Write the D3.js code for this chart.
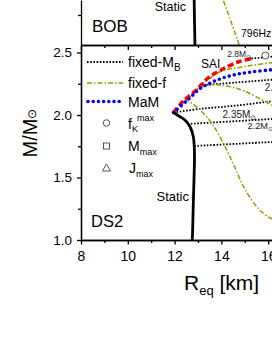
<!DOCTYPE html>
<html>
<head>
<meta charset="utf-8">
<script src="https://cdn.jsdelivr.net/npm/d3@7"></script>
<style>
body { margin: 0; background: #fff; }
svg { display: block; font-family: Arial, "Liberation Sans", sans-serif; }
</style>
</head>
<body>
<div id="chart"></div>
<script>
// values: [R_eq (km), M/Msun]
const staticBOB = [[12.87, 1.0], [12.85, 1.2], [12.83, 1.45]];
const f796BOB = [[14.76, 1.0], [14.4, 1.2], [14.08, 1.375], [13.9, 1.45]];

const staticDS2 = [[11.95, 2.02], [12.2, 1.99], [12.44, 1.96], [12.66, 1.906], [12.8, 1.826],
    [12.84, 1.746], [12.85, 1.65], [12.84, 1.56], [12.8, 1.296], [12.76, 1.026], [12.74, 0.98]];
const saiDS2 = [[11.95, 2.02], [12.36, 2.11], [12.93, 2.2], [13.43, 2.296], [14.0, 2.362],
    [14.71, 2.424], [15.28, 2.45]];
const mamDS2 = [[11.95, 2.02], [12.57, 2.122], [13.13, 2.216], [13.85, 2.282], [14.57, 2.322],
    [15.28, 2.344], [16.16, 2.362], [16.6, 2.368]];
const fixedF = [
    [[13.1, 2.236], [13.94, 2.346], [14.94, 2.386], [16.15, 2.418], [16.6, 2.426]],
    [[12.9, 2.2], [13.3, 2.232], [13.85, 2.242], [14.4, 2.225], [15.0, 2.19], [15.99, 2.096], [16.5, 2.04]],
    [[12.43, 2.13], [13.0, 2.056], [13.6, 1.93], [14.2, 1.73], [14.6, 1.57], [14.92, 1.435],
        [15.52, 1.264], [16.08, 1.176], [16.5, 1.155]]
];
const fixedMB = [
    [[15.28, 2.452], [16.6, 2.474]],
    [[13.1, 2.238], [16.16, 2.282], [16.6, 2.288]],
    [[11.95, 2.02], [13.14, 2.05], [14.57, 2.074], [16.16, 2.11], [16.6, 2.118]],
    [[12.56, 1.928], [16.16, 1.968], [16.6, 1.973]],
    [[12.84, 1.752], [16.16, 1.784], [16.6, 1.788]]
];
const fkMax = [[15.88, 2.476]];
const mbLabels = [
    { text: "2.8M", r: 14.25, m: 2.465, size: 8.5 },
    { text: "2.65M", r: 15.85, m: 2.19, size: 10 },
    { text: "2.35M", r: 14.05, m: 1.98, size: 10 },
    { text: "2.2M", r: 15.12, m: 1.885, size: 9.2 }
];

const xTicks = [8, 10, 12, 14, 16, 18];
const xMinor = [9, 11, 13, 15, 17];
const yTicks = [1.0, 1.5, 2.0, 2.5];
const yMinor = [1.25, 1.75, 2.25];

const legendItems = ["fixed-M", "fixed-f", "MaM", "f", "M", "J"];

const width = 272, height = 352;
const olive = "#999900";

const svg = d3.select("#chart").append("svg")
    .attr("width", width)
    .attr("height", height);

const x = d3.scaleLinear().domain([8, 18]).range([81, 81 + 10 * 23.4]);
const y = d3.scaleLinear().domain([1.0, 2.56]).range([240, 45]);
const yTop = d3.scaleLinear().domain([1.0, 1.375]).range([45, 0]);

const line = d3.line().x(d => x(d[0])).y(d => y(d[1])).curve(d3.curveCatmullRom);
const lineTop = d3.line().x(d => x(d[0])).y(d => yTop(d[1]));

svg.append("clipPath").attr("id", "clipLow")
    .append("rect").attr("x", 81).attr("y", 45).attr("width", 300).attr("height", 195);
svg.append("clipPath").attr("id", "clipTop")
    .append("rect").attr("x", 81).attr("y", 0).attr("width", 300).attr("height", 45);

// ---- top panel (BOB)
const topPanel = svg.append("g").attr("clip-path", "url(#clipTop)");
topPanel.append("path").attr("d", lineTop(f796BOB))
    .attr("fill", "none").attr("stroke", olive).attr("stroke-width", 1.5)
    .attr("stroke-dasharray", "5,2,1.5,2");
topPanel.append("path").attr("d", lineTop(staticBOB))
    .attr("fill", "none").attr("stroke", "#000").attr("stroke-width", 2.8);

svg.append("text").attr("x", 92).attr("y", 32).attr("font-size", 17).text("BOB");
svg.append("text").attr("x", 186).attr("y", 10.5).attr("font-size", 12.5)
    .attr("text-anchor", "end").text("Static");
svg.append("text").attr("x", 241).attr("y", 36.5).attr("font-size", 10.5).text("796Hz");

// ---- lower panel (DS2)
const plot = svg.append("g").attr("clip-path", "url(#clipLow)");

fixedMB.forEach(s => {
    plot.append("path").attr("d", line(s))
        .attr("fill", "none").attr("stroke", "#000").attr("stroke-width", 1.8)
        .attr("stroke-dasharray", "1.6,1.6");
});
fixedF.forEach(s => {
    plot.append("path").attr("d", line(s))
        .attr("fill", "none").attr("stroke", olive).attr("stroke-width", 1.5)
        .attr("stroke-dasharray", "5,2,1.5,2");
});
plot.append("path").attr("d", line(saiDS2))
    .attr("fill", "none").attr("stroke", "#ff0000").attr("stroke-width", 3.5)
    .attr("stroke-dasharray", "6,3");
plot.append("path").attr("d", line(mamDS2))
    .attr("fill", "none").attr("stroke", "#0000ff").attr("stroke-width", 3.6)
    .attr("stroke-linecap", "round").attr("stroke-dasharray", "0,5.2");
plot.append("path").attr("d", line(staticDS2))
    .attr("fill", "none").attr("stroke", "#000").attr("stroke-width", 2.8);

plot.selectAll(".fk").data(fkMax).enter().append("circle")
    .attr("cx", d => x(d[0])).attr("cy", d => y(d[1])).attr("r", 3.5)
    .attr("fill", "#fff").attr("stroke", "#444").attr("stroke-width", 0.9);

mbLabels.forEach(l => {
    const t = svg.append("text").attr("x", x(l.r)).attr("y", y(l.m))
        .attr("font-size", l.size).attr("fill", "#222").text(l.text);
    t.append("tspan").attr("font-size", l.size * 0.68).attr("dy", 2).text("\u2299");
});

svg.append("text").attr("x", 201).attr("y", 68).attr("font-size", 12).text("SAI");
svg.append("text").attr("x", 189).attr("y", 201).attr("font-size", 13)
    .attr("text-anchor", "end").text("Static");
svg.append("text").attr("x", 91).attr("y", 226.5).attr("font-size", 16.5).text("DS2");

// ---- legend
const legendY = [62, 83, 101.5, 123, 146, 168];
const lg = svg.append("g");
lg.append("line").attr("x1", 87).attr("x2", 123).attr("y1", legendY[0]).attr("y2", legendY[0])
    .attr("stroke", "#000").attr("stroke-width", 1.8).attr("stroke-dasharray", "1.6,1.6");
lg.append("line").attr("x1", 87).attr("x2", 123).attr("y1", legendY[1]).attr("y2", legendY[1])
    .attr("stroke", olive).attr("stroke-width", 1.5).attr("stroke-dasharray", "5,2,1.5,2");
lg.append("line").attr("x1", 88).attr("x2", 123).attr("y1", legendY[2]).attr("y2", legendY[2])
    .attr("stroke", "#0000ff").attr("stroke-width", 3.6).attr("stroke-linecap", "round")
    .attr("stroke-dasharray", "0,5.2");
lg.append("circle").attr("cx", 106.5).attr("cy", legendY[3]).attr("r", 3.3)
    .attr("fill", "none").attr("stroke", "#444").attr("stroke-width", 0.9);
lg.append("rect").attr("x", 103.5).attr("y", legendY[4] - 3).attr("width", 6).attr("height", 6)
    .attr("fill", "none").attr("stroke", "#444").attr("stroke-width", 0.9);
lg.append("path")
    .attr("d", `M106.5,${legendY[5] - 4}L110.5,${legendY[5] + 3}L102.5,${legendY[5] + 3}Z`)
    .attr("fill", "none").attr("stroke", "#444").attr("stroke-width", 0.9);

const t0 = lg.append("text").attr("x", 128).attr("y", legendY[0] + 5).attr("font-size", 14).text(legendItems[0]);
t0.append("tspan").attr("font-size", 10).attr("dy", 4).text("B");
lg.append("text").attr("x", 128).attr("y", legendY[1] + 5).attr("font-size", 14).text(legendItems[1]);
lg.append("text").attr("x", 128).attr("y", legendY[2] + 5).attr("font-size", 14).text(legendItems[2]);
const t3 = lg.append("text").attr("x", 128).attr("y", legendY[3] + 6).attr("font-size", 14).text(legendItems[3]);
t3.append("tspan").attr("font-size", 9).attr("dy", 3).text("K");
t3.append("tspan").attr("font-size", 9).attr("dy", -11).attr("dx", -1).text("max");
const t4 = lg.append("text").attr("x", 128).attr("y", legendY[4] + 5).attr("font-size", 14).text(legendItems[4]);
t4.append("tspan").attr("font-size", 9).attr("dy", 4).text("max");
const t5 = lg.append("text").attr("x", 129).attr("y", legendY[5] + 5).attr("font-size", 14).text(legendItems[5]);
t5.append("tspan").attr("font-size", 9).attr("dy", 4).text("max");

// ---- axes
function styleAxis(g) {
    g.selectAll("path, line").attr("stroke", "#000").attr("stroke-width", 1.3);
    g.selectAll("text").attr("font-size", 13.5).attr("fill", "#000")
        .attr("font-family", "Arial, 'Liberation Sans', sans-serif");
}

svg.append("g").attr("transform", "translate(0,240)")
    .call(d3.axisBottom(x).tickValues(xTicks).tickFormat(d3.format("d"))
        .tickSize(4.5).tickSizeOuter(0).tickPadding(7))
    .call(styleAxis)
    .selectAll("text").attr("font-size", 14);
svg.append("g").attr("transform", "translate(0,240)")
    .call(d3.axisBottom(x).tickValues(xMinor).tickFormat("").tickSize(3).tickSizeOuter(0))
    .call(styleAxis);

svg.append("g").attr("transform", "translate(0,45)")
    .call(d3.axisBottom(x).tickValues(xTicks).tickFormat("").tickSize(5).tickSizeOuter(0))
    .call(styleAxis);
svg.append("g").attr("transform", "translate(0,45)")
    .call(d3.axisBottom(x).tickValues(xMinor).tickFormat("").tickSize(3).tickSizeOuter(0))
    .call(styleAxis);

svg.append("g").attr("transform", "translate(81,0)")
    .call(d3.axisLeft(y).tickValues(yTicks).tickFormat(d3.format(".1f"))
        .tickSize(4).tickSizeOuter(0).tickPadding(5))
    .call(styleAxis);
svg.append("g").attr("transform", "translate(81,0)")
    .call(d3.axisLeft(y).tickValues(yMinor).tickFormat("").tickSize(3).tickSizeOuter(0))
    .call(styleAxis);

svg.append("g").attr("transform", "translate(81,0)")
    .call(d3.axisLeft(yTop).tickValues([1.25]).tickFormat("").tickSize(3).tickSizeOuter(0))
    .call(styleAxis);

// axis titles
const yl = svg.append("text")
    .attr("transform", "translate(37,133) rotate(-90)")
    .attr("text-anchor", "middle").attr("font-size", 20).text("M/M");
yl.append("tspan").attr("font-size", 12).attr("dy", -1).text("\u2299");

const xl = svg.append("text").attr("x", 184).attr("y", 290).attr("font-size", 21).text("R");
xl.append("tspan").attr("font-size", 13).attr("dy", 5).text("eq");
xl.append("tspan").attr("font-size", 21).attr("dy", -5).text(" [km]");
</script>
</body>
</html>
